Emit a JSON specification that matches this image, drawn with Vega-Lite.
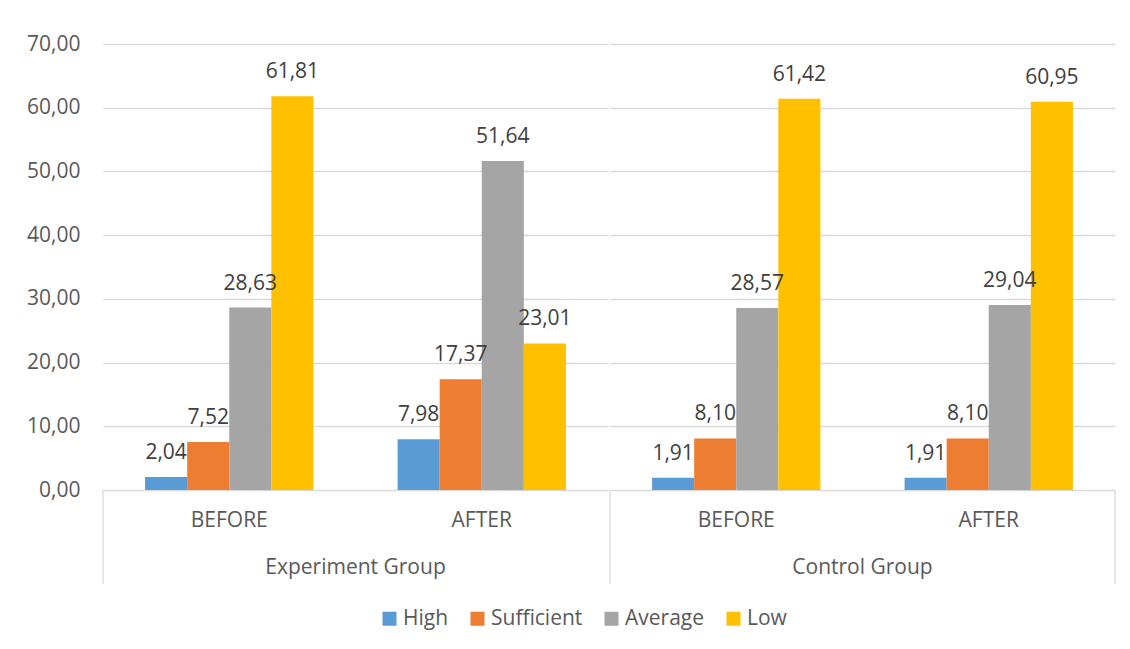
{
  "$schema": "https://vega.github.io/schema/vega-lite/v6.json",
  "padding": {"left": 26, "top": 33, "right": 10, "bottom": 10},
  "background": "white",
  "spacing": 0,
  "data": {
    "values": [
      {"group": "Experiment Group", "phase": "BEFORE", "level": "High", "value": 2.04},
      {"group": "Experiment Group", "phase": "BEFORE", "level": "Sufficient", "value": 7.52},
      {"group": "Experiment Group", "phase": "BEFORE", "level": "Average", "value": 28.63},
      {"group": "Experiment Group", "phase": "BEFORE", "level": "Low", "value": 61.81},
      {"group": "Experiment Group", "phase": "AFTER", "level": "High", "value": 7.98},
      {"group": "Experiment Group", "phase": "AFTER", "level": "Sufficient", "value": 17.37},
      {"group": "Experiment Group", "phase": "AFTER", "level": "Average", "value": 51.64},
      {"group": "Experiment Group", "phase": "AFTER", "level": "Low", "value": 23.01},
      {"group": "Control Group", "phase": "BEFORE", "level": "High", "value": 1.91},
      {"group": "Control Group", "phase": "BEFORE", "level": "Sufficient", "value": 8.10},
      {"group": "Control Group", "phase": "BEFORE", "level": "Average", "value": 28.57},
      {"group": "Control Group", "phase": "BEFORE", "level": "Low", "value": 61.42},
      {"group": "Control Group", "phase": "AFTER", "level": "High", "value": 1.91},
      {"group": "Control Group", "phase": "AFTER", "level": "Sufficient", "value": 8.10},
      {"group": "Control Group", "phase": "AFTER", "level": "Average", "value": 29.04},
      {"group": "Control Group", "phase": "AFTER", "level": "Low", "value": 60.95}
    ]
  },
  "facet": {
    "column": {
      "field": "group",
      "type": "nominal",
      "sort": ["Experiment Group", "Control Group"],
      "header": {"title": null, "labelOrient": "bottom", "labelPadding": -28}
    }
  },
  "spec": {
    "width": 505,
    "height": 446,
    "layer": [
      {
        "mark": {"type": "bar"},
        "encoding": {
          "x": {
            "field": "phase", "type": "nominal", "sort": ["BEFORE", "AFTER"],
            "scale": {"paddingInner": 0, "paddingOuter": 0},
            "axis": {"title": null, "labelAngle": 0, "ticks": false, "domain": false, "offset": -94, "labelPadding": 18, "labelFontSize": 21, "labelColor": "#595959", "labelFont": "Open Sans"}
          },
          "xOffset": {
            "field": "level", "type": "nominal", "sort": ["High", "Sufficient", "Average", "Low"],
            "scale": {"paddingInner": 0, "paddingOuter": 1.12}
          },
          "y": {
            "field": "value", "type": "quantitative",
            "scale": {"domain": [0, 70], "nice": false},
            "axis": {"title": null, "values": [0, 10, 20, 30, 40, 50, 60, 70], "format": ".2f", "ticks": false, "domain": false, "labelPadding": 22, "labelFontSize": 21, "labelColor": "#595959", "labelFont": "Open Sans", "gridColor": "#d9d9d9", "gridWidth": 1.3}
          },
          "color": {
            "field": "level", "type": "nominal",
            "scale": {"domain": ["High", "Sufficient", "Average", "Low"], "range": ["#5b9bd5", "#ed7d31", "#a5a5a5", "#ffc000"]},
            "legend": {"title": null, "orient": "none", "legendX": 276, "legendY": 564, "direction": "horizontal", "symbolType": "square", "symbolSize": 196, "symbolStrokeWidth": 0, "labelFontSize": 21, "labelFont": "Open Sans", "labelColor": "#595959", "labelOffset": 3, "columnPadding": 18}
          }
        }
      },
      {
        "mark": {"type": "text", "baseline": "alphabetic", "dy": -18, "fontSize": 21, "font": "Open Sans", "color": "#404040"},
        "encoding": {
          "x": {"field": "phase", "type": "nominal", "sort": ["BEFORE", "AFTER"]},
          "xOffset": {"field": "level", "type": "nominal", "sort": ["High", "Sufficient", "Average", "Low"]},
          "y": {"field": "value", "type": "quantitative"},
          "text": {"field": "value", "type": "quantitative", "format": ".2f"}
        }
      },
      {
        "transform": [{"filter": "datum.phase === 'BEFORE' && datum.level === 'High'"}],
        "mark": {"type": "rule", "color": "#d9d9d9", "strokeWidth": 1.3},
        "encoding": {
          "x": {"field": "phase", "type": "nominal", "sort": ["BEFORE", "AFTER"], "bandPosition": 0},
          "y": {"datum": 0},
          "y2": {"datum": -14.75}
        }
      },
      {
        "transform": [{"filter": "datum.group === 'Control Group' && datum.phase === 'AFTER' && datum.level === 'High'"}],
        "mark": {"type": "rule", "color": "#d9d9d9", "strokeWidth": 1.3},
        "encoding": {
          "x": {"field": "phase", "type": "nominal", "sort": ["BEFORE", "AFTER"], "bandPosition": 1},
          "y": {"datum": 0},
          "y2": {"datum": -14.75}
        }
      }
    ]
  },
  "config": {
    "locale": {"number": {"decimal": ",", "thousands": ".", "grouping": [3], "currency": ["", " €"]}},
    "view": {"stroke": null},
    "font": "Open Sans",
    "header": {"labelFontSize": 21, "labelColor": "#595959", "labelFont": "Open Sans"}
  }
}
